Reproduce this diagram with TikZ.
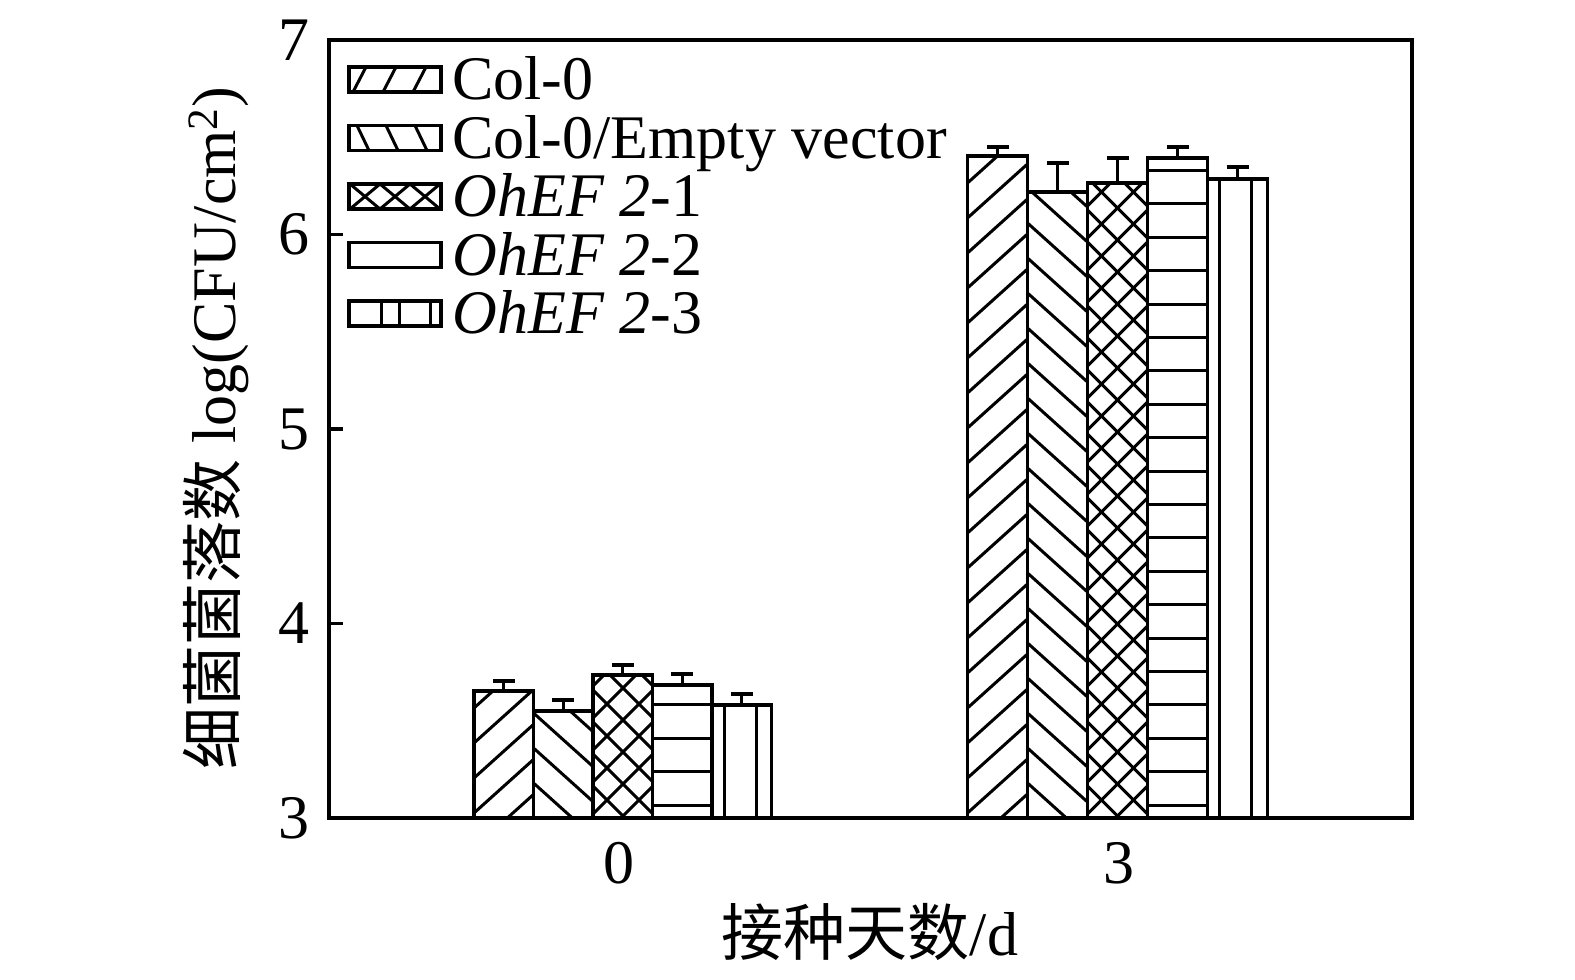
\documentclass[tikz,border=0pt]{standalone}
\usepackage{fontspec}
\setmainfont{Liberation Serif}
\newfontfamily\cjk{Noto Sans CJK SC}
\tikzset{
  hatch/.style={line width=1.5pt, line cap=butt},
  barline/.style={line width=1.8pt, line join=miter},
  frameline/.style={line width=1.7pt},
  errline/.style={line width=1.6pt},
  lbl/.style={font=\fontsize{31}{36}\selectfont, inner sep=0pt},
}
% #1 pattern type, #2 x0, #3 x1, #4 top, #5 bottom
% 0 none, 1 /, 2 \, 3 x, 4 -, 5 |, 6-9 legend variants of / \ x |
\newcommand\barpat[5]{%
  \begin{scope}
    \clip (#2,#4) rectangle (#3,#5);
    \ifcase #1 \or
      \foreach \k in {-3,...,24} \draw[hatch] ({#2-10},{#5+30-35*\k+9}) -- ({#2+70},{#5+30-35*\k-63});
    \or
      \foreach \k in {-3,...,24} \draw[hatch] ({#2-10},{#5-35*\k-9}) -- ({#2+70},{#5-35*\k+63});
    \or
      \foreach \k in {-3,...,28} {
        \draw[hatch] ({#2-10},{#5+60-32*\k+10}) -- ({#2+70},{#5+60-32*\k-70});
        \draw[hatch] ({#2-10},{#5-32*\k-10}) -- ({#2+70},{#5-32*\k+70});
      }
    \or
      \foreach \k in {0,...,20} \draw[hatch] (#2,{#5-13-33.4*\k}) -- (#3,{#5-13-33.4*\k});
    \or
      \draw[hatch] ({#2+12},#4) -- ({#2+12},#5);
      \draw[hatch] ({#2+44},#4) -- ({#2+44},#5);
    \or
      \foreach \k in {0,1,2} \draw[hatch] ({#2+4+30*\k},#5) -- ({#2+17+30*\k},#4);
    \or
      \foreach \k in {0,1,2} \draw[hatch] ({#2+8+29*\k},#4) -- ({#2+20+29*\k},#5);
    \or
      \foreach \k in {0,1,2} {
        \draw[hatch] ({#2+1+30*\k},#4) -- ({#2+31+30*\k},#5);
        \draw[hatch] ({#2+1+30*\k},#5) -- ({#2+31+30*\k},#4);
      }
    \or
      \foreach \dx in {32,50,81} \draw[hatch] ({#2+\dx},#4) -- ({#2+\dx},#5);
    \fi
  \end{scope}
  \draw[barline] (#2,#5) rectangle (#3,#4);}
\newcommand\errbar[3]{% #1 x centre, #2 bar top, #3 error top
  \draw[errline] (#1,#2) -- (#1,#3);
  \draw[errline] ({#1-11},#3) -- ({#1+11},#3);}
\begin{document}
\begin{tikzpicture}[x=0.5pt,y=-0.5pt]
\useasboundingbox (0,0) rectangle (1575,980);

% bars, group 0
\barpat{1}{474}{533.5}{691}{818}
\barpat{2}{533.5}{593}{711}{818}
\barpat{3}{593}{652.5}{675}{818}
\barpat{4}{652.5}{712}{685}{818}
\barpat{5}{712}{771.5}{705}{818}
\errbar{503.75}{691}{681}
\errbar{563.25}{711}{700}
\errbar{622.75}{675}{665}
\errbar{682.25}{685}{674}
\errbar{741.75}{705}{694}

% bars, group 3
\barpat{1}{967.5}{1027.5}{156}{818}
\barpat{2}{1027.5}{1087.5}{192}{818}
\barpat{3}{1087.5}{1147.5}{183}{818}
\barpat{4}{1147.5}{1207.5}{158}{818}
\barpat{5}{1207.5}{1267.5}{179}{818}
\errbar{997.5}{156}{147}
\errbar{1057.5}{192}{163}
\errbar{1117.5}{183}{158}
\errbar{1177.5}{158}{147}
\errbar{1237.5}{179}{167}

% frame and ticks
\draw[frameline] (329,40) rectangle (1412,818);
\foreach \yy in {623.5,429,234.5} \draw[frameline] (329,\yy) -- (343,\yy);

% y tick labels
\node[lbl,anchor=east] (y3) at (310,818) {3};
\node[lbl,anchor=east] (y4) at (310,623.5) {4};
\node[lbl,anchor=east] (y5) at (310,429) {5};
\node[lbl,anchor=east] (y6) at (310,234.5) {6};
\node[lbl,anchor=east] (y7) at (310,40) {7};

% x tick labels
\node[lbl] (x0) at (619,863) {0};
\node[lbl] (x3) at (1119,863) {3};

% axis titles
\node[lbl] (xtitle) at (870,932) {{\cjk 接种天数}/d};
\node[lbl,rotate=90] (ytitle) at (216,428) {{\cjk 细菌菌落数} log(CFU/cm\textsuperscript{2})};

% legend
\barpat{6}{349}{441}{67}{92}
\barpat{7}{349}{441}{125.5}{150.5}
\barpat{8}{349}{441}{184}{209}
\barpat{0}{349}{441}{242.5}{267.5}
\barpat{9}{349}{441}{301}{326}
\node[lbl,anchor=base west] (l1) at (452,99.5) {Col-0};
\node[lbl,anchor=base west] (l2) at (452,158) {Col-0/Empty vector};
\node[lbl,anchor=base west] (l3) at (452,216.5) {\textit{OhEF 2}-1};
\node[lbl,anchor=base west] (l4) at (452,275) {\textit{OhEF 2}-2};
\node[lbl,anchor=base west] (l5) at (452,333.5) {\textit{OhEF 2}-3};
\end{tikzpicture}
\end{document}
